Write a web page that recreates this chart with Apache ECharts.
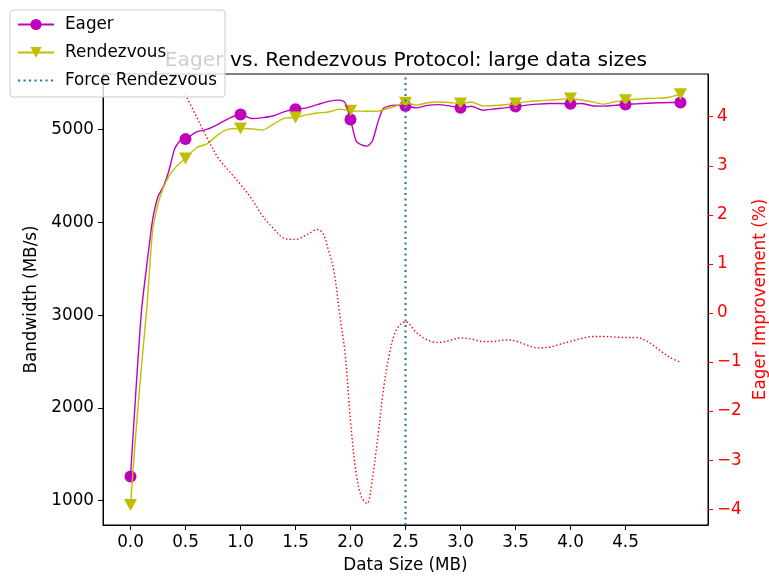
<!DOCTYPE html>
<html>
<head>
<meta charset="utf-8">
<script src="https://cdn.jsdelivr.net/npm/echarts@6/dist/echarts.min.js"></script>
<style>
  html, body { margin: 0; padding: 0; background: #fff; }
  #chart { width: 769px; height: 581px; }
</style>
</head>
<body>
<div id="chart"></div>
<script>
// bandwidth samples (MB)
const sizeMB = [0, 0.05, 0.1, 0.15, 0.2, 0.25, 0.3, 0.35, 0.4, 0.45, 0.5, 0.6, 0.7, 0.8, 0.9, 1.0,
  1.1, 1.2, 1.3, 1.4, 1.5, 1.6, 1.7, 1.8, 1.9, 1.95, 2.0, 2.05, 2.1, 2.15, 2.2, 2.25, 2.3, 2.4, 2.5,
  2.6, 2.7, 2.8, 2.9, 3.0, 3.1, 3.2, 3.3, 3.4, 3.5, 3.6, 3.7, 3.8, 3.9, 4.0, 4.1, 4.2, 4.3, 4.4, 4.5,
  4.6, 4.7, 4.8, 4.9, 5.0];
const eagerBw = [1260, 2200, 3050, 3560, 4020, 4280, 4390, 4560, 4790, 4880, 4898, 4975, 5005, 5060, 5125, 5164,
  5120, 5130, 5150, 5195, 5221, 5235, 5270, 5305, 5318, 5293, 5110, 4880, 4835, 4822, 4880, 5084, 5230, 5264, 5256,
  5235, 5262, 5270, 5256, 5235, 5252, 5210, 5222, 5235, 5250, 5265, 5275, 5282, 5282, 5278, 5282, 5258, 5254, 5262, 5272,
  5278, 5285, 5290, 5293, 5293];
const rendezvousBw = [954, 1750, 2450, 3100, 3900, 4200, 4380, 4500, 4580, 4640, 4690, 4805, 4850, 4950, 5008, 5013,
  5010, 4995, 5060, 5125, 5131, 5160, 5180, 5190, 5221, 5215, 5203, 5200, 5200, 5198, 5198, 5200, 5215, 5250, 5290,
  5264, 5290, 5298, 5293, 5282, 5298, 5256, 5260, 5268, 5282, 5300, 5312, 5318, 5325, 5336, 5320, 5300, 5275, 5300, 5318,
  5328, 5336, 5340, 5350, 5383];

// eager improvement (%)
const improveMB = [0.5, 0.6, 0.7, 0.8, 0.9, 1.0, 1.1, 1.2, 1.3, 1.4, 1.5, 1.6, 1.7, 1.75, 1.8, 1.85, 1.9, 1.95,
  2.0, 2.05, 2.1, 2.15, 2.2, 2.25, 2.3, 2.35, 2.4, 2.45, 2.5, 2.6, 2.7, 2.8, 2.9, 3.0, 3.1, 3.2, 3.3, 3.4, 3.5,
  3.6, 3.7, 3.8, 3.9, 4.0, 4.1, 4.2, 4.3, 4.4, 4.5, 4.6, 4.7, 4.8, 4.9, 5.0];
const improvePct = [4.45, 4.0, 3.55, 3.15, 2.88, 2.62, 2.33, 1.98, 1.72, 1.52, 1.50, 1.59, 1.70, 1.62, 1.28, 0.85, 0.0, -0.81,
  -2.2, -3.25, -3.75, -3.88, -3.35, -2.5, -1.55, -0.88, -0.43, -0.24, -0.18, -0.4, -0.55, -0.6, -0.56, -0.51, -0.53, -0.58, -0.58, -0.55, -0.57,
  -0.65, -0.71, -0.70, -0.64, -0.58, -0.52, -0.48, -0.48, -0.49, -0.5, -0.5, -0.58, -0.74, -0.9, -1.0];

const forceRendezvousMB = 2.5;

const xTicks = [0, 0.5, 1.0, 1.5, 2.0, 2.5, 3.0, 3.5, 4.0, 4.5];
const bwTicks = [1000, 2000, 3000, 4000, 5000];
const pctTicks = [-4, -3, -2, -1, 0, 1, 2, 3, 4];

const xRange = [-0.25, 5.25];
const bwRange = [738, 5600];
const pctRange = [-4.32, 4.87];

const pair = (xs, ys) => xs.map((x, i) => [x, ys[i]]);
const everyHalf = (pts) => pts.filter(p => Math.abs(p[0] * 2 - Math.round(p[0] * 2)) < 1e-9);

const eagerPts = pair(sizeMB, eagerBw);
const rendPts = pair(sizeMB, rendezvousBw);

const FONT = 'DejaVu Sans';
const FS = 16.8;
const MAGENTA = '#bf00bf';
const YELLOW = '#bfbf00';
const BLUE = '#1f77b4';

const chart = echarts.init(document.getElementById('chart'));

chart.setOption({
  animation: false,
  textStyle: { fontFamily: FONT },
  title: {
    text: 'Eager vs. Rendezvous Protocol: large data sizes',
    left: 401, textAlign: 'center', top: 46,
    textStyle: { fontFamily: FONT, fontSize: 20.2, fontWeight: 'normal', color: '#000' },
    z: 1
  },
  legend: {
    orient: 'vertical',
    left: 10, top: 10,
    z: 20,
    padding: [6, 8, 8, 7],
    itemGap: 11,
    itemWidth: 36, itemHeight: 14,
    backgroundColor: 'rgba(255,255,255,0.8)',
    borderColor: '#cccccc', borderWidth: 1, borderRadius: 3,
    textStyle: { fontFamily: FONT, fontSize: FS, color: '#000', padding: [0, 0, 0, 6] },
    data: [
      { name: 'Eager' },
      { name: 'Rendezvous' },
      { name: 'Force Rendezvous', itemStyle: { opacity: 0 } }
    ]
  },
  grid: {
    left: 103, right: 61, top: 74, bottom: 56,
    outerBoundsMode: 'none', containLabel: false,
    show: true, borderColor: '#000', borderWidth: 1, backgroundColor: 'transparent'
  },
  xAxis: {
    type: 'value',
    min: xRange[0], max: xRange[1],
    name: 'Data Size (MB)', nameLocation: 'middle', nameGap: 32,
    nameTextStyle: { fontFamily: FONT, fontSize: FS, color: '#000', verticalAlign: 'top' },
    axisLine: { show: true, onZero: false, lineStyle: { color: '#000', width: 1 } },
    axisTick: { show: true, inside: false, length: 5, customValues: xTicks, lineStyle: { color: '#000' } },
    axisLabel: { customValues: xTicks, margin: 9, fontFamily: FONT, fontSize: FS, color: '#000',
      formatter: v => v.toFixed(1) },
    splitLine: { show: false }
  },
  yAxis: [
    {
      type: 'value', position: 'left',
      min: bwRange[0], max: bwRange[1],
      name: 'Bandwidth (MB/s)', nameLocation: 'middle', nameGap: 60, nameRotate: 90,
      nameTextStyle: { fontFamily: FONT, fontSize: FS, color: '#000' },
      axisLine: { show: true, onZero: false, lineStyle: { color: '#000', width: 1 } },
      axisTick: { show: true, length: 5, customValues: bwTicks, lineStyle: { color: '#000' } },
      axisLabel: { customValues: bwTicks, margin: 9, fontFamily: FONT, fontSize: FS, color: '#000',
        formatter: v => String(v) },
      splitLine: { show: false }
    },
    {
      type: 'value', position: 'right',
      min: pctRange[0], max: pctRange[1],
      name: 'Eager Improvement (%)', nameLocation: 'middle', nameGap: 43, nameRotate: 90,
      nameTextStyle: { fontFamily: FONT, fontSize: FS, color: '#ff0000' },
      axisLine: { show: true, onZero: false, lineStyle: { color: '#000', width: 1 } },
      axisTick: { show: true, length: 5, customValues: pctTicks, lineStyle: { color: '#ff0000' } },
      axisLabel: { customValues: pctTicks, margin: 9, fontFamily: FONT, fontSize: FS, color: '#ff0000',
        formatter: v => String(v).replace('-', '\u2212') },
      splitLine: { show: false }
    }
  ],
  series: [
    {
      name: 'Eager', type: 'line', yAxisIndex: 0,
      data: eagerPts, smooth: 0.2, showSymbol: false,
      symbol: 'circle', symbolSize: 12,
      lineStyle: { color: MAGENTA, width: 1.4 }, itemStyle: { color: MAGENTA }
    },
    {
      name: 'Eager marks', type: 'scatter', yAxisIndex: 0,
      data: everyHalf(eagerPts), symbol: 'circle', symbolSize: 12,
      itemStyle: { color: MAGENTA, opacity: 1 }, silent: true
    },
    {
      name: 'Rendezvous', type: 'line', yAxisIndex: 0,
      data: rendPts, smooth: 0.2, showSymbol: false,
      symbol: 'triangle', symbolRotate: 180, symbolSize: 12,
      lineStyle: { color: YELLOW, width: 1.4 }, itemStyle: { color: YELLOW }
    },
    {
      name: 'Rendezvous marks', type: 'scatter', yAxisIndex: 0,
      data: everyHalf(rendPts), symbol: 'triangle', symbolRotate: 180, symbolSize: [13, 12],
      itemStyle: { color: YELLOW, opacity: 1 }, silent: true
    },
    {
      name: 'Force Rendezvous', type: 'line', yAxisIndex: 0,
      data: [[forceRendezvousMB, bwRange[0]], [forceRendezvousMB, bwRange[1]]],
      showSymbol: false, symbol: 'circle',
      lineStyle: { color: BLUE, width: 2.1, type: [2.1, 3.4] }, itemStyle: { color: BLUE }
    },
    {
      name: 'Eager Improvement', type: 'line', yAxisIndex: 1,
      data: pair(improveMB, improvePct), smooth: 0.35, showSymbol: false,
      lineStyle: { color: '#ff0000', width: 1.4, type: [1.4, 2.3] }, itemStyle: { color: '#ff0000' }
    }
  ]
});
</script>
</body>
</html>
